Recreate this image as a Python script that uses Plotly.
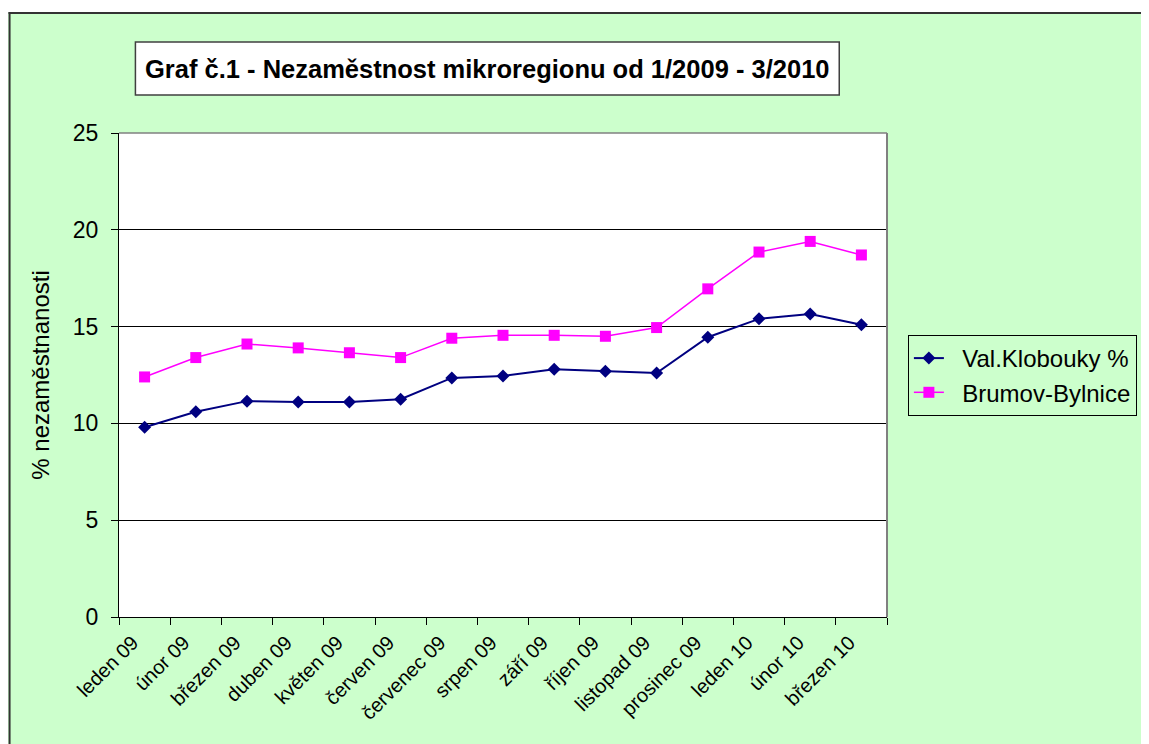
import plotly.graph_objects as go

months = ["leden 09", "únor 09", "březen 09", "duben 09", "květen 09", "červen 09",
          "červenec 09", "srpen 09", "září 09", "říjen 09", "listopad 09", "prosinec 09",
          "leden 10", "únor 10", "březen 10"]
val_klobouky = [9.8, 10.6, 11.15, 11.1, 11.1, 11.25, 12.35, 12.45, 12.8, 12.7, 12.6, 14.45, 15.4, 15.65, 15.1]
brumov = [12.4, 13.4, 14.1, 13.9, 13.65, 13.4, 14.4, 14.55, 14.55, 14.5, 14.95, 16.95, 18.85, 19.4, 18.7]
y_ticks = [0, 5, 10, 15, 20, 25]

# the page body has an 8px margin; size the figure to fill the rest of the window
OFF = 8
W, H = 1149 - OFF, 744 - OFF
# plot area in screen pixels
SL, SR, ST, SB = 119, 891, 133, 617
L, R, T, B = SL - OFF, SR - OFF, ST - OFF, SB - OFF

def px(x):  # screen x -> paper
    return (x - OFF - L) / (R - L)

def py(y):  # screen y -> paper
    return (B - (y - OFF)) / (B - T)

FONT = "Liberation Sans, Arial, sans-serif"
NB = "\u00a0\u00a0"

fig = go.Figure()
fig.add_trace(go.Scatter(
    x=months, y=val_klobouky, name=NB + "Val.Klobouky %", mode="lines+markers",
    line=dict(color="#000080", width=2),
    marker=dict(symbol="diamond", size=10, color="#000080"),
    legendgroup="a"))
fig.add_trace(go.Scatter(
    x=months, y=brumov, name=NB + "Brumov-Bylnice", mode="lines+markers",
    line=dict(color="#FF00FF", width=1.5),
    marker=dict(symbol="square", size=11, color="#FF00FF"),
    legendgroup="b"))

shapes = [
    # white strip above the chart border
    dict(type="rect", xref="paper", yref="paper", x0=px(0), x1=px(1160), y0=py(12.5), y1=py(0),
         fillcolor="white", line=dict(width=0), layer="below"),
    # outer chart border
    dict(type="line", xref="paper", yref="paper", x0=px(9), x1=px(9), y0=py(760), y1=py(12),
         line=dict(color="#333333", width=2)),
    dict(type="line", xref="paper", yref="paper", x0=px(8), x1=px(1160), y0=py(13), y1=py(13),
         line=dict(color="#333333", width=2)),
    # plot area border
    dict(type="line", xref="paper", yref="paper", x0=1, x1=1, y0=0, y1=1,
         line=dict(color="#808080", width=2)),
    dict(type="line", xref="paper", yref="paper", x0=0, x1=1, y0=1, y1=1,
         line=dict(color="#808080", width=1.5)),
    # title box
    dict(type="rect", xref="paper", yref="paper", x0=px(135.5), x1=px(843), y0=py(95), y1=py(42),
         fillcolor="white", line=dict(color="#404040", width=1.5)),
]

fig.update_layout(
    width=W, height=H,
    margin=dict(l=L, r=W - R, t=T, b=H - B, pad=0),
    paper_bgcolor="#CCFFCC",
    plot_bgcolor="white",
    font=dict(family=FONT, color="black"),
    shapes=shapes,
    annotations=[dict(
        text="<b>Graf č.1 - Nezaměstnost mikroregionu od 1/2009 - 3/2010</b>",
        xref="paper", yref="paper", x=px(489), y=py(69), xanchor="center", yanchor="middle",
        showarrow=False, font=dict(family=FONT, size=25.5, color="black"))],
    showlegend=True,
    legend=dict(
        x=px(912), y=py(335), xanchor="left", yanchor="top",
        bgcolor="#CCFFCC", bordercolor="black", borderwidth=1,
        font=dict(family=FONT, size=24, color="black"),
        traceorder="grouped", tracegroupgap=0,
    ),
    xaxis=dict(
        type="category", tickson="boundaries", ticks="outside", ticklen=7,
        tickcolor="black", showline=True, linecolor="black", linewidth=1,
        showgrid=False, tickangle=-45,
        tickfont=dict(family=FONT, size=20, color="black"),
        ticklabelshift=-12, ticklabelstandoff=5,
        range=[-0.5, len(months) - 0.5],
    ),
    yaxis=dict(
        range=[0, 25], tickvals=y_ticks, ticks="outside", ticklen=7, tickcolor="black",
        showline=True, linecolor="black", linewidth=1,
        showgrid=True, gridcolor="black", gridwidth=1, zeroline=False,
        tickfont=dict(family=FONT, size=23, color="black"),
        ticklabelstandoff=8,
        title=dict(text="% nezaměstnanosti", font=dict(family=FONT, size=24, color="black"), standoff=16),
    ),
)

fig.write_html("out.html")
